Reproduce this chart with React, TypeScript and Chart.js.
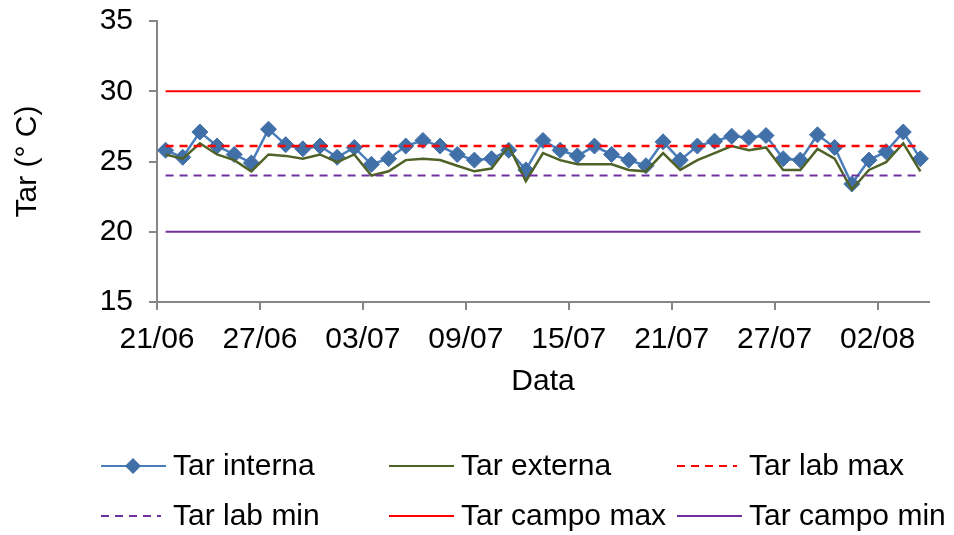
import { useEffect, useRef } from 'react';
import { Chart, registerables } from 'chart.js';

Chart.register(...registerables);

// datas diárias (21/06 a 04/08)
const dates = [
  '21/06', '22/06', '23/06', '24/06', '25/06', '26/06', '27/06', '28/06', '29/06', '30/06',
  '01/07', '02/07', '03/07', '04/07', '05/07', '06/07', '07/07', '08/07', '09/07', '10/07',
  '11/07', '12/07', '13/07', '14/07', '15/07', '16/07', '17/07', '18/07', '19/07', '20/07',
  '21/07', '22/07', '23/07', '24/07', '25/07', '26/07', '27/07', '28/07', '29/07', '30/07',
  '31/07', '01/08', '02/08', '03/08', '04/08',
];
const tickLabels = ['21/06', '27/06', '03/07', '09/07', '15/07', '21/07', '27/07', '02/08'];
const yTicks = [15, 20, 25, 30, 35];

const tarInterna = [
  25.8, 25.3, 27.1, 26.1, 25.5, 24.9, 27.3, 26.2, 25.9, 26.1,
  25.3, 26.0, 24.8, 25.2, 26.1, 26.5, 26.1, 25.5, 25.1, 25.2,
  25.8, 24.4, 26.5, 25.8, 25.4, 26.1, 25.5, 25.1, 24.7, 26.4,
  25.1, 26.1, 26.45, 26.8, 26.7, 26.85, 25.2, 25.1, 26.9, 26.0,
  23.4, 25.1, 25.7, 27.1, 25.2,
];
const tarExterna = [
  25.5, 25.2, 26.3, 25.5, 25.1, 24.3, 25.5, 25.4, 25.2, 25.5,
  24.95, 25.5, 24.0, 24.3, 25.1, 25.2, 25.1, 24.7, 24.3, 24.5,
  26.1, 23.6, 25.6, 25.1, 24.8, 24.8, 24.8, 24.4, 24.3, 25.6,
  24.4, 25.1, 25.6, 26.1, 25.8, 26.0, 24.4, 24.4, 25.9, 25.2,
  23.0, 24.4, 24.95, 26.3, 24.3,
];
const tarLabMax = 26.1;
const tarLabMin = 24;
const tarCampoMax = 30;
const tarCampoMin = 20;

const FONT = "'Liberation Sans', Arial, sans-serif";
const FSIZE = 30;

const toPoints = (vals: number[]) => vals.map((y, i) => ({ x: i, y }));
const constLine = (v: number) => dates.map((_, i) => ({ x: i, y: v }));

// legenda em grade 3x2 (como no Excel)
const gridLegend = {
  id: 'gridLegend',
  afterDraw(chart: any) {
    const ctx = chart.ctx;
    const cols = [101, 389, 677];
    const rows = [466, 516];
    ctx.save();
    ctx.font = `${FSIZE}px ${FONT}`;
    ctx.textBaseline = 'middle';
    ctx.textAlign = 'left';
    chart.data.datasets.forEach((ds: any, i: number) => {
      const x = cols[i % 3];
      const y = rows[Math.floor(i / 3)];
      const dashed = ds.borderDash && ds.borderDash.length > 0;
      const len = dashed ? 60 : 65;
      ctx.strokeStyle = ds.borderColor;
      ctx.lineWidth = 2;
      ctx.setLineDash(ds.borderDash || []);
      ctx.beginPath();
      ctx.moveTo(x, y);
      ctx.lineTo(x + len, y);
      ctx.stroke();
      ctx.setLineDash([]);
      if (ds.pointRadius > 0) {
        const cx = x + 32;
        const r = 8;
        ctx.fillStyle = ds.pointBackgroundColor;
        ctx.beginPath();
        ctx.moveTo(cx, y - r);
        ctx.lineTo(cx + r, y);
        ctx.lineTo(cx, y + r);
        ctx.lineTo(cx - r, y);
        ctx.closePath();
        ctx.fill();
      }
      ctx.fillStyle = '#000';
      ctx.fillText(ds.label, x + 72, y + 1);
    });
    ctx.restore();
  },
};

const App = () => {
  const canvasRef = useRef<HTMLCanvasElement | null>(null);
  const chartRef = useRef<Chart | null>(null);

  useEffect(() => {
    if (!canvasRef.current) return;
    const ctx = canvasRef.current.getContext('2d');
    if (!ctx) return;
    if (chartRef.current) chartRef.current.destroy();

    const lineBase = { pointRadius: 0, pointHoverRadius: 0, fill: false, tension: 0 };

    chartRef.current = new Chart(ctx, {
      type: 'line',
      data: {
        datasets: [
          {
            label: 'Tar interna',
            data: toPoints(tarInterna),
            borderColor: '#4A7EBB',
            borderWidth: 2.5,
            pointStyle: 'rectRot',
            pointRadius: 8,
            pointHoverRadius: 8,
            pointBackgroundColor: '#4170A9',
            pointBorderColor: '#4170A9',
            pointBorderWidth: 1,
            fill: false,
            tension: 0,
            order: 6,
          },
          {
            ...lineBase,
            label: 'Tar externa',
            data: toPoints(tarExterna),
            borderColor: '#4F6228',
            borderWidth: 2.5,
            order: 5,
          },
          {
            ...lineBase,
            label: 'Tar lab max',
            data: constLine(tarLabMax),
            borderColor: '#FF0000',
            borderWidth: 2.5,
            borderDash: [8, 6],
            order: 4,
          },
          {
            ...lineBase,
            label: 'Tar lab min',
            data: constLine(tarLabMin),
            borderColor: '#7030A0',
            borderWidth: 2,
            borderDash: [8, 6],
            order: 3,
          },
          {
            ...lineBase,
            label: 'Tar campo max',
            data: constLine(tarCampoMax),
            borderColor: '#FF0000',
            borderWidth: 2,
            order: 2,
          },
          {
            ...lineBase,
            label: 'Tar campo min',
            data: constLine(tarCampoMin),
            borderColor: '#7030A0',
            borderWidth: 2,
            order: 1,
          },
        ],
      },
      options: {
        animation: false,
        responsive: true,
        maintainAspectRatio: false,
        layout: { padding: { top: 21, right: 25, bottom: 135, left: 0 } },
        plugins: {
          legend: { display: false },
          tooltip: { enabled: false },
        },
        scales: {
          x: {
            type: 'linear',
            min: -0.5,
            max: 44.5,
            afterBuildTicks: (scale: any) => {
              scale.ticks = tickLabels.map((l) => ({ value: dates.indexOf(l) - 0.5 }));
            },
            afterFit: (scale: any) => {
              scale.height = 98;
              scale.paddingLeft = 0;
              scale.paddingRight = 0;
            },
            ticks: {
              color: '#000',
              font: { family: FONT, size: FSIZE },
              padding: 12,
              maxRotation: 0,
              autoSkip: false,
              callback: (v: any) => dates[Math.round(Number(v) + 0.5)] ?? '',
            },
            grid: {
              drawOnChartArea: false,
              drawTicks: true,
              tickLength: 8,
              color: '#868686',
              lineWidth: 2,
            },
            border: { color: '#868686', width: 2 },
            title: {
              display: true,
              text: 'Data',
              color: '#000',
              font: { family: FONT, size: FSIZE },
              padding: { top: 0, bottom: 0 },
            },
          },
          y: {
            min: 15,
            max: 35,
            afterBuildTicks: (scale: any) => {
              scale.ticks = yTicks.map((v) => ({ value: v }));
            },
            afterFit: (scale: any) => {
              scale.width = 157;
              scale.paddingTop = 0;
              scale.paddingBottom = 0;
            },
            ticks: {
              color: '#000',
              font: { family: FONT, size: FSIZE },
              padding: 16,
            },
            grid: {
              drawOnChartArea: false,
              drawTicks: true,
              tickLength: 8,
              color: '#868686',
              lineWidth: 2,
            },
            border: { color: '#868686', width: 2 },
            title: {
              display: true,
              text: 'Tar (° C)',
              color: '#000',
              font: { family: FONT, size: FSIZE },
              padding: { top: 10, bottom: 0 },
            },
          },
        },
      },
      plugins: [gridLegend],
    });

    return () => {
      chartRef.current?.destroy();
      chartRef.current = null;
    };
  }, []);

  return (
    <div style={{ position: 'fixed', left: 0, top: 0, width: 954, height: 535, background: '#fff' }}>
      <canvas ref={canvasRef} />
    </div>
  );
};

export default App;
